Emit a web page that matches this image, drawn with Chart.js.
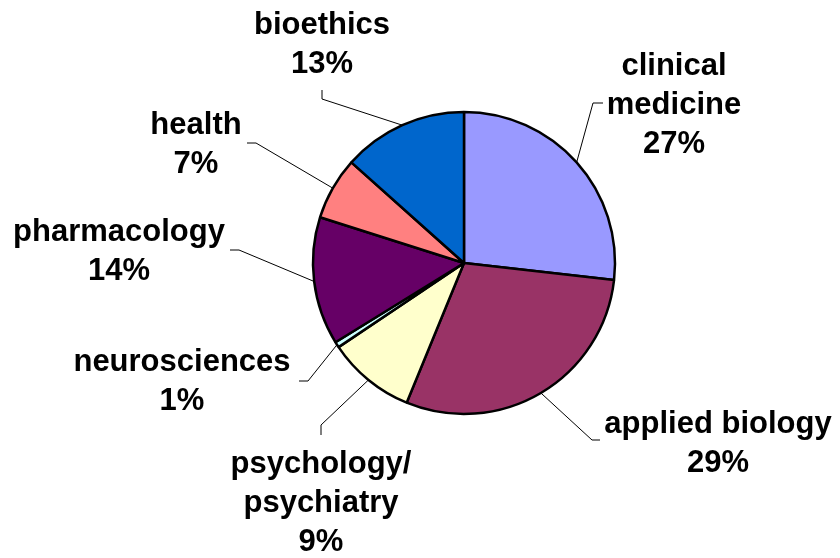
<!DOCTYPE html>
<html>
<head>
<meta charset="utf-8">
<script src="https://cdn.jsdelivr.net/npm/chart.js@4"></script>
<style>
  body { margin: 0; background: #fff; }
  #wrap { width: 840px; height: 558px; }
</style>
</head>
<body>
<div id="wrap"><canvas id="pieChart"></canvas></div>
<script>
// Slices, clockwise from 12 o'clock
const categories = ['clinical medicine', 'applied biology', 'psychology/psychiatry', 'neurosciences', 'pharmacology', 'health', 'bioethics'];
const labelLines = [['clinical', 'medicine'], ['applied biology'], ['psychology/', 'psychiatry'], ['neurosciences'], ['pharmacology'], ['health'], ['bioethics']];
const shares = [26.8, 29.4, 9.4, 0.6, 13.7, 6.7, 13.4];
const sliceColors = ['#9999FF', '#993366', '#FFFFCC', '#CCFFFF', '#660066', '#FF8080', '#0066CC'];

// label placement: text centre x, first baseline y, leader elbow and leader end
const labelLayout = [
  { cx: 674, top: 75,  elbow: [593, 103], end: [603, 103] },
  { cx: 718, top: 433, elbow: [592, 440], end: [600, 440] },
  { cx: 321, top: 473, elbow: [321, 425], end: [321, 435] },
  { cx: 182, top: 371, elbow: [308, 381], end: [299, 381] },
  { cx: 119, top: 241, elbow: [239, 250], end: [230, 250] },
  { cx: 196, top: 134, elbow: [256, 143], end: [247, 143] },
  { cx: 322, top: 34,  elbow: [322, 99],  end: [322, 90] }
];

// draws the leader lines and the name + percent labels
const sliceLabels = {
  id: 'sliceLabels',
  afterDatasetsDraw(chart) {
    const ctx = chart.ctx;
    const arcs = chart.getDatasetMeta(0).data;
    ctx.save();
    arcs.forEach((arc, i) => {
      const p = arc.getProps(['x', 'y', 'startAngle', 'endAngle', 'outerRadius'], true);
      const mid = (p.startAngle + p.endAngle) / 2;
      const sx = p.x + Math.cos(mid) * p.outerRadius;
      const sy = p.y + Math.sin(mid) * p.outerRadius;
      const lay = labelLayout[i];

      ctx.strokeStyle = '#000';
      ctx.lineWidth = 1;
      ctx.beginPath();
      ctx.moveTo(sx, sy);
      ctx.lineTo(lay.elbow[0], lay.elbow[1]);
      ctx.lineTo(lay.end[0], lay.end[1]);
      ctx.stroke();

      const lines = labelLines[i].concat([Math.round(shares[i]) + '%']);
      ctx.fillStyle = '#000';
      ctx.font = 'bold 31px "Liberation Sans", Arial, sans-serif';
      ctx.textAlign = 'center';
      ctx.textBaseline = 'alphabetic';
      lines.forEach((t, k) => ctx.fillText(t, lay.cx, lay.top + k * 39));
    });
    ctx.restore();
  }
};

new Chart(document.getElementById('pieChart'), {
  type: 'pie',
  data: {
    labels: categories,
    datasets: [{
      data: shares,
      backgroundColor: sliceColors,
      borderColor: '#000',
      borderWidth: 2.5
    }]
  },
  options: {
    responsive: true,
    maintainAspectRatio: false,
    animation: false,
    radius: 151,
    layout: { padding: { left: 88, right: 0, top: 0, bottom: 32 } },
    plugins: {
      legend: { display: false },
      tooltip: { enabled: false }
    }
  },
  plugins: [sliceLabels]
});
</script>
</body>
</html>
